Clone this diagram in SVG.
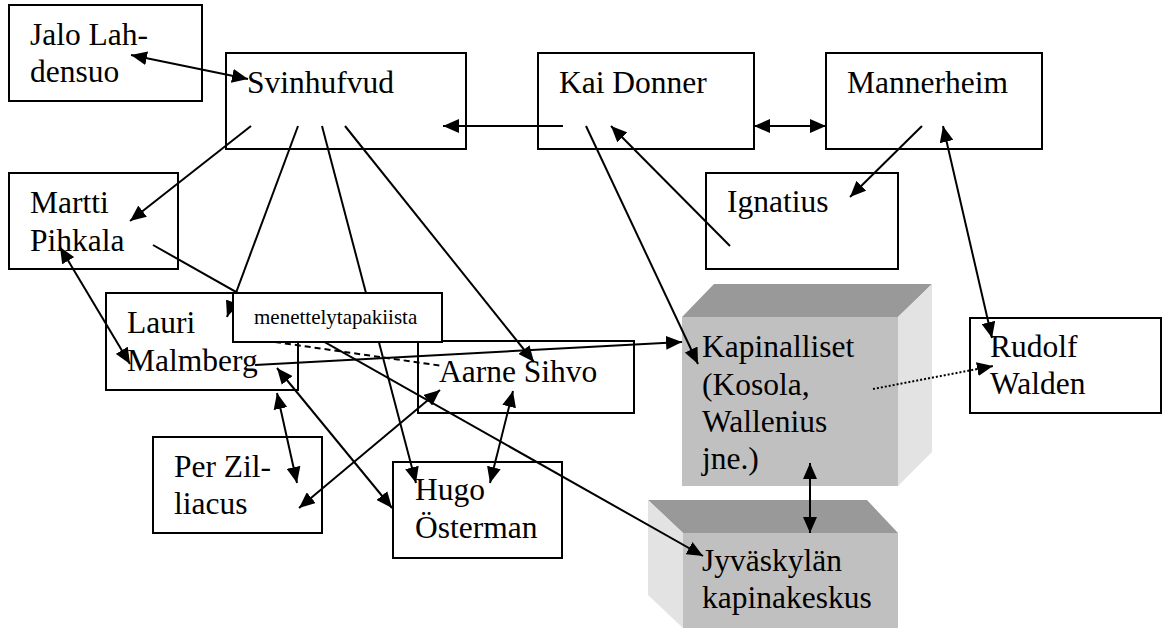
<svg xmlns="http://www.w3.org/2000/svg" width="1162" height="631" viewBox="0 0 1162 631">
<style>
.box{fill:#fff;stroke:#000;stroke-width:2}
.t{font-family:"Liberation Serif","Times New Roman",serif;font-size:31.5px;fill:#000}
.s{font-family:"Liberation Serif","Times New Roman",serif;font-size:21px;fill:#000}
.c{stroke:#000;stroke-width:2;fill:none}
.e{marker-end:url(#ah)}
.b{marker-start:url(#ah);marker-end:url(#ah)}
.top{fill:#999999}
.front{fill:#c0c0c0}
.side{fill:#e3e3e3}
</style>
<defs>
<marker id="ah" markerUnits="userSpaceOnUse" markerWidth="18" markerHeight="14" viewBox="0 0 18 14" refX="16" refY="7" orient="auto-start-reverse">
<path d="M0,0 L16,7 L0,14 Z" fill="#000"/>
</marker>
</defs>
<rect width="1162" height="631" fill="#fff"/>
<g id="jalo"><rect class="box" x="9" y="5" width="193" height="96"/><text class="t" x="30" y="45">Jalo Lah-</text><text class="t" x="30" y="82">densuo</text></g>
<g id="svinhufvud"><rect class="box" x="226" y="53" width="240" height="96"/><text class="t" x="247" y="93">Svinhufvud</text></g>
<g id="kaidonner"><rect class="box" x="538" y="53" width="216" height="96"/><text class="t" x="559" y="93">Kai Donner</text></g>
<g id="mannerheim"><rect class="box" x="826" y="53" width="216" height="96"/><text class="t" x="847" y="93">Mannerheim</text></g>
<g id="ignatius"><rect class="box" x="706" y="173" width="192" height="96"/><text class="t" x="727" y="212">Ignatius</text></g>
<g id="pihkala"><rect class="box" x="9" y="173" width="169" height="96"/><text class="t" x="30" y="213">Martti</text><text class="t" x="30" y="251">Pihkala</text></g>
<g id="malmberg"><rect class="box" x="106" y="293" width="192" height="97"/><text class="t" x="127" y="333">Lauri</text><text class="t" x="127" y="371">Malmberg</text></g>
<g id="sihvo"><rect class="box" x="418" y="341" width="216" height="72"/><text class="t" x="439" y="382">Aarne Sihvo</text></g>
<g id="zilliacus"><rect class="box" x="153" y="437" width="169" height="96"/><text class="t" x="174" y="477">Per Zil-</text><text class="t" x="174" y="514">liacus</text></g>
<g id="osterman"><rect class="box" x="393" y="462" width="169" height="96"/><text class="t" x="415" y="500">Hugo</text><text class="t" x="415" y="538">Österman</text></g>
<g id="kapinalliset">
<polygon class="top" points="682,317 714,284 932,284 898,317"/>
<polygon class="side" points="898,317 932,284 932,452 898,486"/>
<rect class="front" x="682" y="317" width="216" height="169"/>
<text class="t" x="702" y="357">Kapinalliset</text><text class="t" x="702" y="395">(Kosola,</text><text class="t" x="702" y="432">Wallenius</text><text class="t" x="702" y="469">jne.)</text>
</g>
<g id="walden"><rect class="box" x="970" y="318" width="191" height="95"/><text class="t" x="990" y="357">Rudolf</text><text class="t" x="990" y="394">Walden</text></g>
<g id="jyvaskyla">
<polygon class="top" points="648,500 867,500 898,533 683,533"/>
<polygon class="side" points="648,500 683,533 683,628 648,595"/>
<rect class="front" x="683" y="533" width="215" height="95"/>
<text class="t" x="702" y="571">Jyväskylän</text><text class="t" x="702" y="608">kapinakeskus</text>
</g>
<g id="connectors">
<line class="c b" x1="131" y1="55" x2="248" y2="79"/>
<line class="c e" x1="251" y1="126" x2="130" y2="221"/>
<line class="c e" x1="298" y1="126" x2="227" y2="317"/>
<line class="c e" x1="322" y1="126" x2="416" y2="483"/>
<line class="c e" x1="345" y1="126" x2="534" y2="362"/>
<line class="c e" x1="563" y1="126" x2="443" y2="126"/>
<line class="c b" x1="754" y1="126" x2="826" y2="126"/>
<line class="c e" x1="922" y1="126" x2="850" y2="197"/>
<line class="c e" x1="730" y1="246" x2="611" y2="126"/>
<line class="c b" x1="943" y1="126" x2="992" y2="338"/>
<line class="c e" x1="586" y1="126" x2="698" y2="364"/>
<line class="c e" x1="153" y1="245" x2="703" y2="556"/>
<line class="c e" x1="255" y1="365" x2="682" y2="342"/>
<line class="c" x1="275" y1="342" x2="443" y2="366" stroke-dasharray="6,4"/>
<line class="c b" x1="277" y1="393" x2="297" y2="483"/>
<line class="c b" x1="277" y1="368" x2="392" y2="508"/>
<line class="c b" x1="440" y1="390" x2="299" y2="508"/>
<line class="c b" x1="513" y1="391" x2="490" y2="483"/>
<line class="c b" x1="60" y1="247" x2="130" y2="364"/>
<line class="c b" x1="810" y1="463" x2="810" y2="533"/>
<line class="c e" x1="873" y1="389" x2="993" y2="366" stroke-width="1.5" stroke-dasharray="2,2"/>
</g>
<g id="menettelytapakiista"><rect class="box" x="233" y="293" width="209" height="49"/><text class="s" x="254" y="324">menettelytapakiista</text></g>
</svg>
